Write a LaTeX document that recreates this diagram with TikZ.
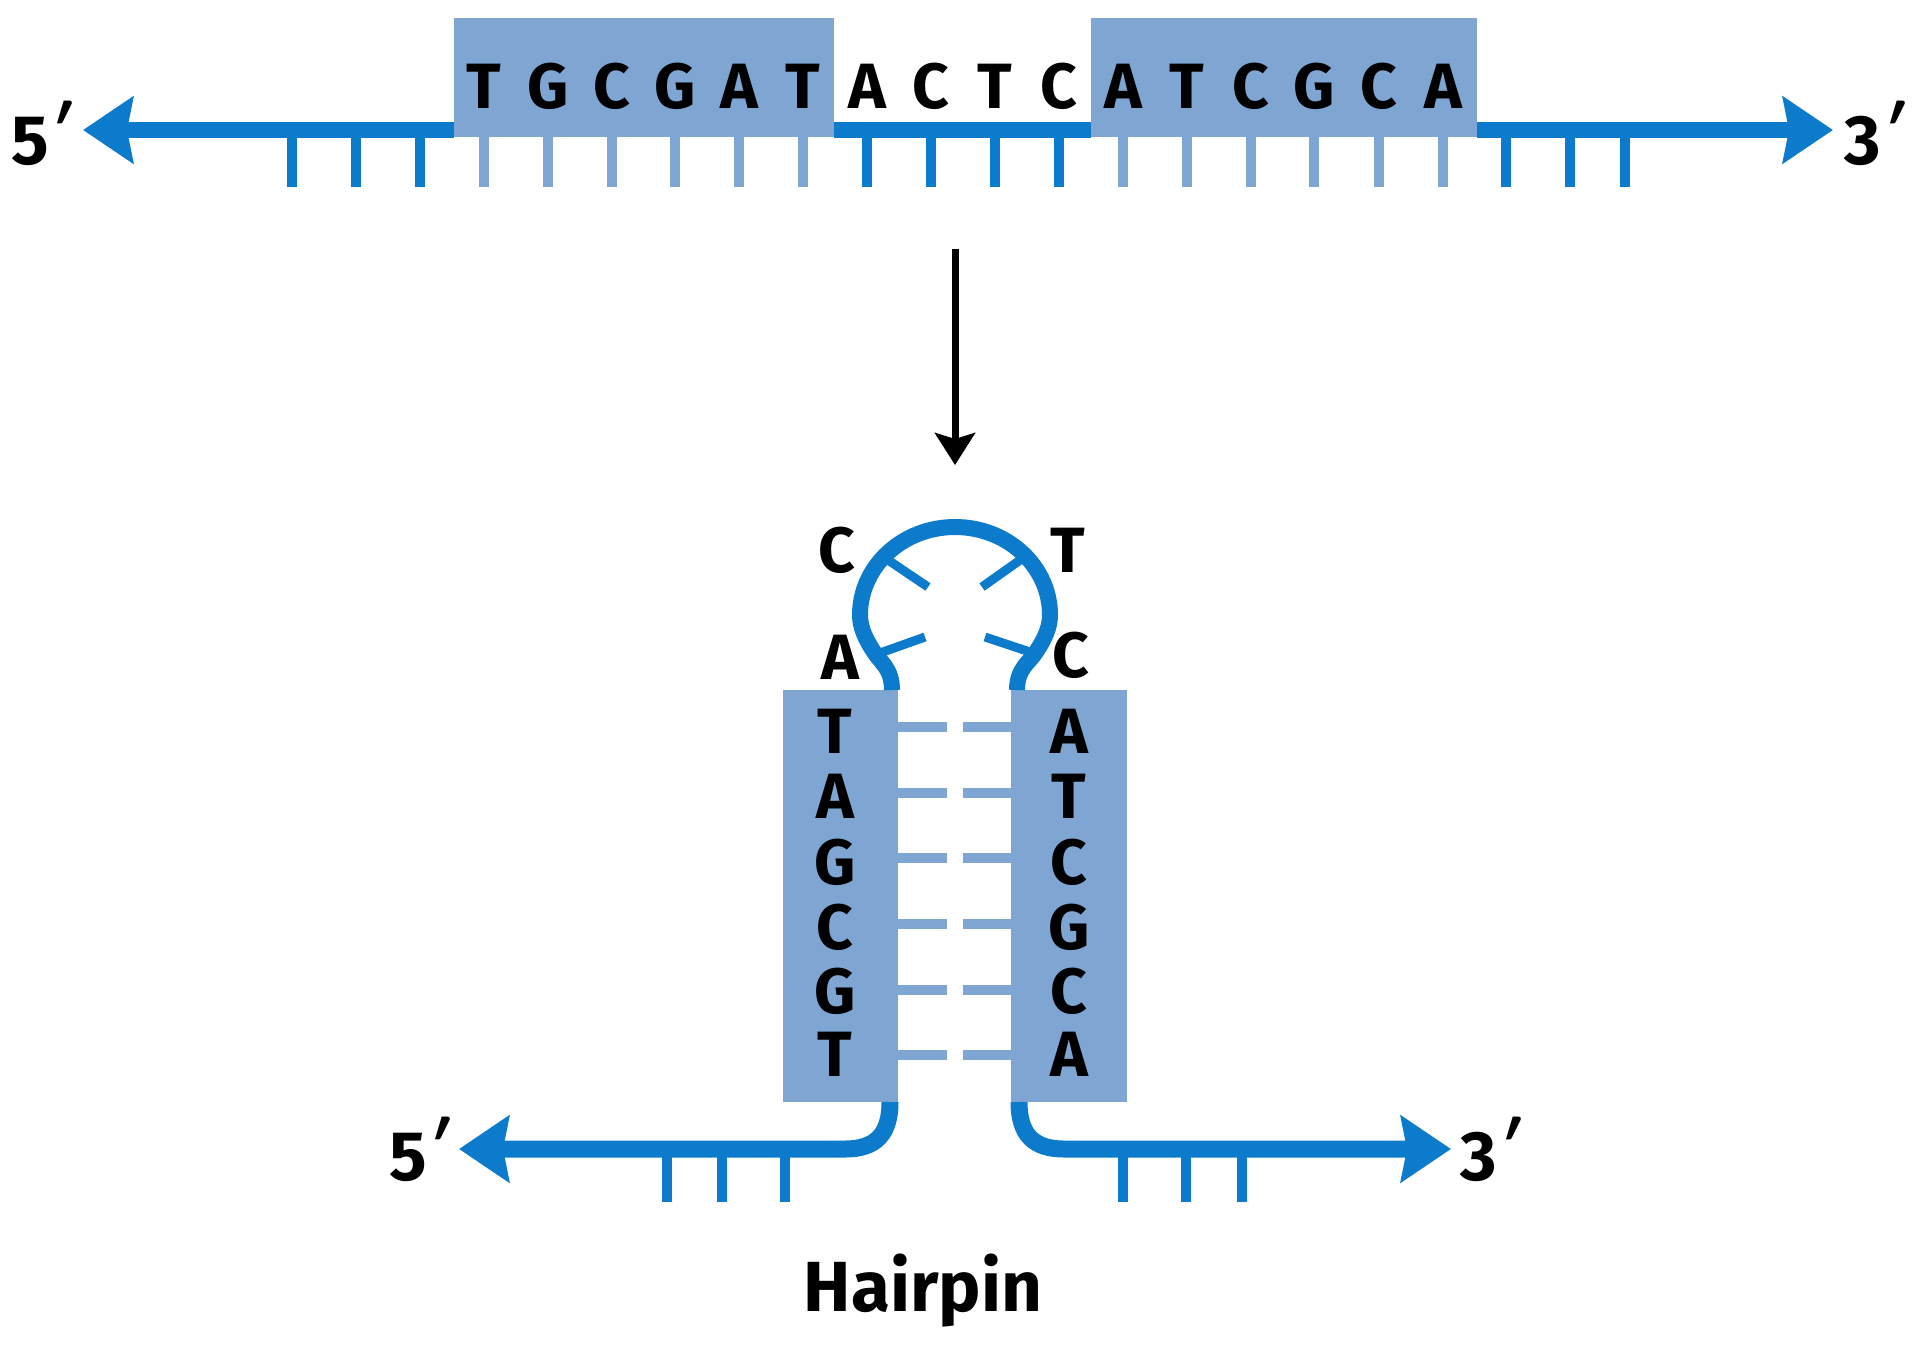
\documentclass[tikz,border=0pt]{standalone}
\usepackage{fontspec}
\setmainfont{Fira Sans}
\newfontfamily\primefont{Lato}
\usetikzlibrary{arrows.meta}
\definecolor{strand}{HTML}{0D7BCB}
\definecolor{boxc}{HTML}{7FA6D3}
\newcommand{\primemark}{\raisebox{0.1em}{\primefont\bfseries\itshape ′}}
\tikzset{
  x=1pt,y=-1pt,
  regionbox/.style={fill=boxc,draw=none,inner sep=0pt,minimum width=#1},
  letter/.style={inner sep=0pt,font=\fontsize{64}{64}\selectfont\bfseries,text=black},
  endlabel/.style={inner sep=0pt,font=\fontsize{70}{70}\selectfont\bfseries,text=black},
  backbone/.style={draw=strand,line width=16pt},
  arrowstrand/.style={backbone,-{Stealth[length=50pt,width=66pt,inset=6pt]}},
  basetick/.style={draw=strand,line width=10pt},
  fadetick/.style={draw=boxc,line width=9.5pt},
  looptick/.style={draw=strand,line width=9pt},
}
\begin{document}
\begin{tikzpicture}
\useasboundingbox (0,0) rectangle (1920,1371);
% --- top duplex
\node[regionbox=380pt,minimum height=119pt] (boxL) at (644,77.5) {};
\node[regionbox=386pt,minimum height=119pt] (boxR) at (1284,77.5) {};
\coordinate (tipL) at (83,130);
\coordinate (tipR) at (1833,130);
\draw[arrowstrand] (boxL.west |- tipL) -- (tipL);
\draw[arrowstrand] (boxR.east |- tipR) -- (tipR);
\draw[backbone] (boxL.east |- tipL) -- (boxR.west |- tipL);
\foreach \i/\x in {a/292,b/356,c/420,d/867,e/931,f/995,g/1059,h/1506,j/1570,k/1625}{
  \coordinate (ts\i) at (\x,130);
  \coordinate (te\i) at (\x,187);
  \draw[basetick] (ts\i) -- (te\i);
}
\foreach \i/\x in {a/484,b/548,c/612,d/675,e/739,f/803,g/1123,h/1187,j/1251,k/1314,l/1379,n/1443}{
  \coordinate (fs\i) at (\x,137);
  \coordinate (fe\i) at (\x,187);
  \draw[fadetick] (fs\i) -- (fe\i);
}
\foreach \t/\x [count=\n] in {T/484,G/548,C/612,G/675,A/739,T/803,A/867,C/931,T/995,C/1059,A/1123,T/1187,C/1251,G/1314,C/1379,A/1443}{
  \node[letter] (top\n) at (\x,86) {\t};
}
\node[endlabel] (fiveT) at (41,133) {5\primemark};
\node[endlabel] (threeT) at (1874,133) {3\primemark};
% --- reaction arrow
\coordinate (arrS) at (955,249);
\coordinate (arrE) at (955,465);
\draw[line width=7pt,-{Stealth[length=32pt,width=40pt,inset=6pt]}] (arrS) -- (arrE);
% --- stem
\node[regionbox=115pt,minimum height=412pt] (stemL) at (840.5,896) {};
\node[regionbox=116pt,minimum height=412pt] (stemR) at (1069,896) {};
\foreach \y in {727,793,858,924,990,1055}{
  \coordinate (rl\y) at (898,\y);
  \coordinate (rr\y) at (1011,\y);
  \draw[fadetick] (rl\y) -- (947,\y);
  \draw[fadetick] (963,\y) -- (rr\y);
}
\foreach \t/\y [count=\n] in {T/731,A/796,G/862,C/927,G/991,T/1054}{
  \node[letter] (sl\n) at (835,\y) {\t};
}
\foreach \t/\y [count=\n] in {A/731,T/796,C/862,G/927,C/991,A/1054}{
  \node[letter] (sr\n) at (1069,\y) {\t};
}
% --- loop
\coordinate (loopC) at (955,615);
\coordinate (loopLb) at (892,690);
\coordinate (loopRb) at (1017,690);
\draw[backbone] (loopLb) .. controls (892,668) and (880,662) .. (874,652)
   .. controls (866,640) and (860,628) .. (860,615)
   arc[start angle=180,end angle=360,x radius=95,y radius=88]
   .. controls (1050,628) and (1044,640) .. (1036,652)
   .. controls (1030,662) and (1017,668) .. (loopRb);
\foreach \a/\b/\c/\d in {885/558/928/587,1023/558/982/587,880/653/925/637,1030/652/985/637}{
  \draw[looptick] (\a,\b) -- (\c,\d);
}
\node[letter] (lC) at (837,550) {C};
\node[letter] (rT) at (1068,550) {T};
\node[letter] (lA) at (840,657) {A};
\node[letter] (rC) at (1071,655) {C};
% --- lower strands
\coordinate (lowLs) at (890,1102);
\coordinate (lowRs) at (1019,1102);
\coordinate (lowLt) at (459,1149);
\coordinate (lowRt) at (1451,1149);
\draw[arrowstrand,line width=17pt] (lowLs) .. controls (890,1134) and (876,1149) .. (845,1149) -- (lowLt);
\draw[arrowstrand,line width=17pt] (lowRs) .. controls (1019,1134) and (1033,1149) .. (1064,1149) -- (lowRt);
\foreach \x in {667,722,785,1123,1186,1242}{
  \coordinate (lt\x) at (\x,1149);
  \draw[basetick] (lt\x) -- (\x,1202);
}
\node[endlabel] (fiveB) at (419,1149) {5\primemark};
\node[endlabel] (threeB) at (1490,1149) {3\primemark};
\node[endlabel,font=\fontsize{71}{71}\selectfont\bfseries] (hp) at (923,1291) {Hairpin};
\end{tikzpicture}
\end{document}
